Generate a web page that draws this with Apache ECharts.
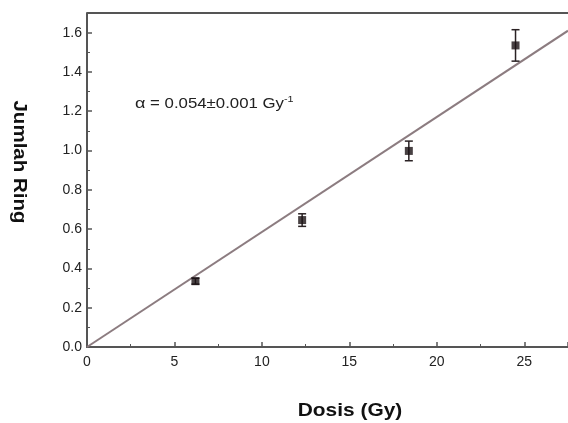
<!DOCTYPE html>
<html>
<head>
<meta charset="utf-8">
<script src="https://cdn.jsdelivr.net/npm/echarts@6/dist/echarts.min.js"></script>
<style>
  html, body { margin: 0; padding: 0; background: #fff; }
  #chart { width: 568px; height: 423px; }
</style>
</head>
<body>
<div id="chart"></div>
<script>
// dose (Gy) vs ring count
var dosis = [6.2, 12.3, 18.4, 24.5];
var jumlahRing = [0.335, 0.646, 0.998, 1.535];
var galat = [0.015, 0.032, 0.05, 0.08];
var fitX = [0, 27.5];
var fitY = [0, 1.61];

var chart = echarts.init(document.getElementById('chart'));

var titik = dosis.map(function (d, i) { return [d, jumlahRing[i]]; });
var galatData = dosis.map(function (d, i) { return [d, jumlahRing[i] - galat[i], jumlahRing[i] + galat[i]]; });
var garis = fitX.map(function (x, i) { return [x, fitY[i]]; });

var font = 'Liberation Sans, Arial, sans-serif';

var option = {
    animation: false,
    grid: { left: 87, top: 13, right: 0, bottom: 76 },
    xAxis: {
        type: 'value', min: 0, max: 27.5, interval: 5,
        axisLine: { show: true, onZero: false, lineStyle: { color: '#555', width: 2 } },
        axisTick: { inside: true, length: 5, lineStyle: { color: '#555', width: 1.5 } },
        minorTick: { show: true, splitNumber: 2, length: 3, lineStyle: { color: '#555' } },
        axisLabel: { fontFamily: font, fontSize: 14, color: '#222', margin: 8, showMaxLabel: false },
        splitLine: { show: false }
    },
    yAxis: {
        type: 'value', min: 0, max: 1.7, interval: 0.2,
        axisLine: { show: true, lineStyle: { color: '#555', width: 2 } },
        axisTick: { inside: true, length: 5, lineStyle: { color: '#555', width: 1.5 } },
        minorTick: { show: true, splitNumber: 2, length: 3, lineStyle: { color: '#555' } },
        axisLabel: {
            fontFamily: font, fontSize: 14, color: '#222', margin: 5, showMaxLabel: false,
            formatter: function (v) { return v.toFixed(1); }
        },
        splitLine: { show: false }
    },
    graphic: [
        { type: 'line', shape: { x1: 87, y1: 13, x2: 568, y2: 13 }, style: { stroke: '#555', lineWidth: 2 } },
        {
            type: 'text', x: 19, y: 162, rotation: -Math.PI / 2, scaleX: 1.14,
            style: {
                text: 'Jumlah Ring', fontFamily: font, fontSize: 18, fontWeight: 'bold', fill: '#111',
                textAlign: 'center', textVerticalAlign: 'middle'
            }
        },
        {
            type: 'text', x: 350, y: 411, scaleX: 1.16,
            style: {
                text: 'Dosis (Gy)', fontFamily: font, fontSize: 18, fontWeight: 'bold', fill: '#111',
                textAlign: 'center', textVerticalAlign: 'middle'
            }
        },
        {
            type: 'text', x: 135, y: 104, scaleX: 1.2,
            style: {
                text: '{a|α} = 0.054±0.001 Gy{s|-1}',
                fontFamily: font, fontSize: 14, fill: '#222', textVerticalAlign: 'middle',
                rich: {
                    a: { fontFamily: font, fontSize: 15, fill: '#222' },
                    s: { fontFamily: font, fontSize: 9, fill: '#222', verticalAlign: 'top', padding: [0, 0, 8, 0] }
                }
            }
        }
    ],
    series: [
        {
            type: 'line', data: garis, symbol: 'none',
            lineStyle: { color: '#8c7c80', width: 2 }, z: 2
        },
        {
            type: 'custom', data: galatData, z: 3,
            renderItem: function (params, api) {
                var x = api.value(0);
                var lo = api.coord([x, api.value(1)]);
                var hi = api.coord([x, api.value(2)]);
                var w = 4;
                var st = { stroke: '#2a2224', lineWidth: 1.5 };
                return {
                    type: 'group', children: [
                        { type: 'line', shape: { x1: lo[0], y1: lo[1], x2: hi[0], y2: hi[1] }, style: st },
                        { type: 'line', shape: { x1: lo[0] - w, y1: lo[1], x2: lo[0] + w, y2: lo[1] }, style: st },
                        { type: 'line', shape: { x1: hi[0] - w, y1: hi[1], x2: hi[0] + w, y2: hi[1] }, style: st }
                    ]
                };
            }
        },
        {
            type: 'scatter', data: titik, symbol: 'rect', symbolSize: 8,
            itemStyle: { color: '#1a1214' }, z: 4
        }
    ]
};

chart.setOption(option);
</script>
</body>
</html>
